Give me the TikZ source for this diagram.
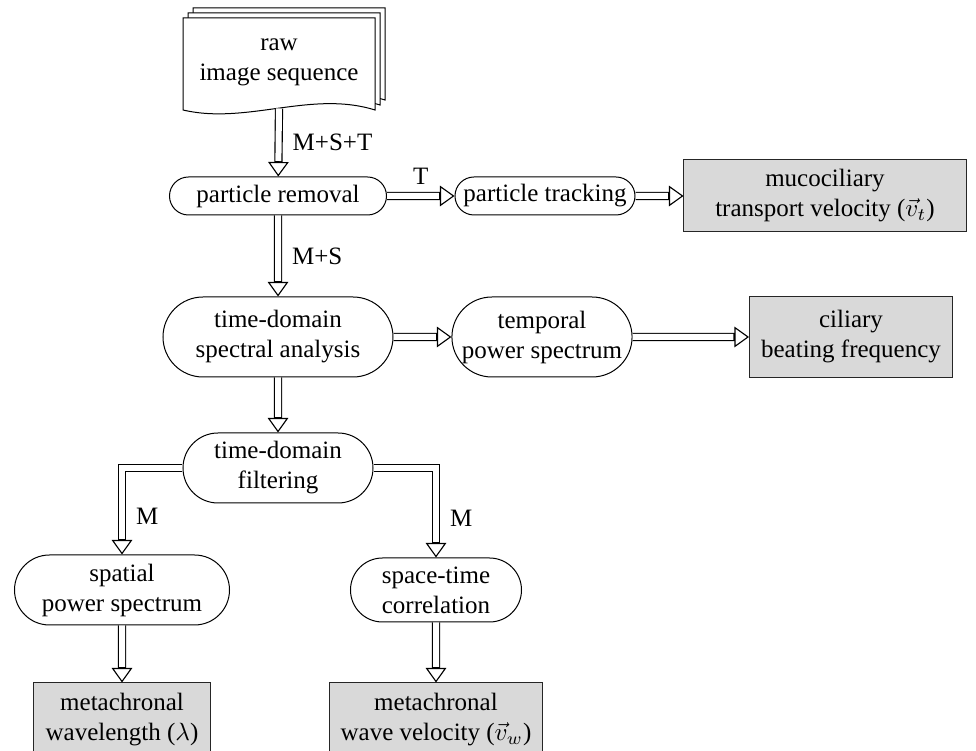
\documentclass[tikz,border=0pt]{standalone}
\usepackage{fontspec}
\setmainfont{Liberation Serif}
\usetikzlibrary{shapes.misc,arrows.meta}
\begin{document}
\begin{tikzpicture}[x=0.4pt,y=-0.4pt,
  proc/.style={rounded rectangle, draw, line width=0.4pt, align=center, inner sep=0pt, fill=white},
  res/.style={rectangle, draw=black!85, fill=gray!30, line width=0.4pt, align=center, inner sep=0pt},
  flow/.style={draw=black, line width=3.3pt,
     -{Triangle[open, length=5.8pt, width=8.2pt, line width=0.45pt]},
     postaction={draw=white, line width=2.4pt, -, shorten >=6.2pt}},
  lbl/.style={inner sep=2pt},
  docsheet/.style={draw, line width=0.4pt, fill=white}]
\useasboundingbox (0,0) rectangle (976,751);
\clip (0,0) rectangle (976,751);
% stacked document
\foreach \d in {10,5,0}{
  \draw[docsheet] (183+\d,18-\d) -- (375+\d,18-\d) -- (375+\d,110-\d)
     .. controls (311+\d,90-\d) and (247+\d,125-\d) .. (183+\d,110-\d) -- cycle;
}
\node (raw) at (279,62) [align=center] {raw\\image sequence};
\coordinate (rawb) at (279,108.5);
% process nodes
\node[proc, minimum width=86.8pt, minimum height=15.2pt] (rem) at (278,196) {particle removal};
\node[proc, minimum width=72pt, minimum height=15.2pt] (track) at (545,196) {particle tracking};
\node[res, minimum width=112.8pt, minimum height=28.8pt] (muco) at (825,196) {mucociliary\\transport velocity ($\vec{v}_t$)};
\node[proc, minimum width=92pt, minimum height=32pt] (spec) at (278,337) {time-domain\\spectral analysis};
\node[proc, minimum width=68pt, minimum height=32pt] (temp) at (542,337) {temporal\\power spectrum};
\node[res, minimum width=81.2pt, minimum height=32.4pt] (cil) at (851,337) {ciliary\\beating frequency};
\node[proc, minimum width=76pt, minimum height=28pt] (filt) at (278,468) {time-domain\\filtering};
\node[proc, minimum width=86pt, minimum height=28pt] (spat) at (122,590) {spatial\\power spectrum};
\node[proc, minimum width=68.4pt, minimum height=25.6pt] (stc) at (436,590) {space-time\\correlation};
\node[res, minimum width=70.8pt, minimum height=29.6pt] (wl) at (122,720) {metachronal\\wavelength ($\lambda$)};
\node[res, minimum width=84.8pt, minimum height=29.6pt] (wv) at (436,720) {metachronal\\wave velocity ($\vec{v}_w$)};
% connectors
\draw[flow] (rawb) -- node[lbl, right=2pt] {M+S+T} (rem);
\draw[flow] (rem) -- node[lbl, above=1pt] {T} (track);
\draw[flow] (track) -- (muco);
\draw[flow] (rem) -- node[lbl, right=2pt] {M+S} (spec);
\draw[flow] (spec) -- (temp);
\draw[flow] (temp) -- (cil);
\draw[flow] (spec) -- (filt);
\draw[flow] (filt.west) -| node[lbl, right=2pt, pos=0.78] {M} (spat.north);
\draw[flow] (filt.east) -| node[lbl, right=2pt, pos=0.78] {M} (stc.north);
\draw[flow] (spat) -- (wl);
\draw[flow] (stc) -- (wv);
\end{tikzpicture}
\end{document}
